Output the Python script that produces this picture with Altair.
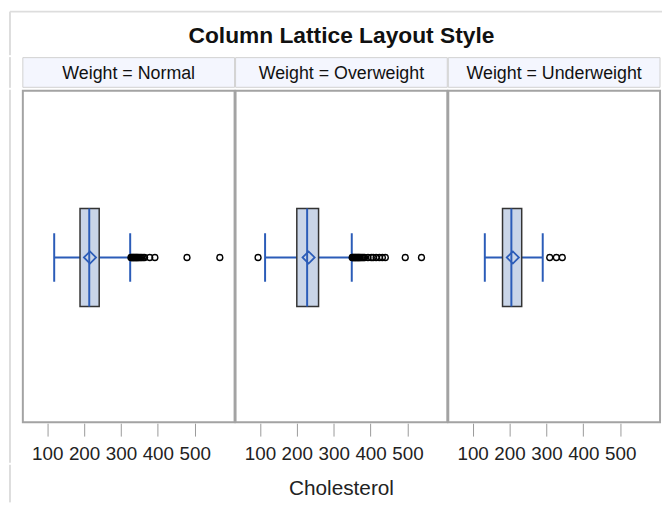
import altair as alt
import pandas as pd

# ---- data ----
groups = ["Normal", "Overweight", "Underweight"]
whisker_low = [119, 114, 133]
q1 = [189, 200, 181]
median = [214, 228, 205]
q3 = [241, 259, 233]
mean = [216, 232, 209]
whisker_high = [325, 349, 290]
outliers_normal = [327, 329, 331, 333, 335, 337, 339, 341, 343, 345, 347, 350,
                   353, 356, 360, 364, 378, 392, 479, 568]
outliers_overweight = [95, 350, 352, 354, 356, 358, 360, 362, 364, 366, 368, 370,
                       372, 375, 378, 381, 384, 393, 402, 407, 415, 424, 432, 440,
                       494, 538]
outliers_underweight = [309, 327, 343]
tick_values = [100, 200, 300, 400, 500]
x_title = ["Cholesterol"]
title_text = ["Column Lattice Layout Style"]

rows = []
for i, g in enumerate(groups):
    rows.append({"group": g, "kind": "stat", "label": "Weight = " + g,
                 "lo": whisker_low[i], "q1": q1[i], "median": median[i],
                 "q3": q3[i], "mean": mean[i], "hi": whisker_high[i]})
for g, vals in zip(groups, [outliers_normal, outliers_overweight, outliers_underweight]):
    for v in vals:
        rows.append({"group": g, "kind": "out", "value": v})
df = pd.DataFrame(rows)

# ---- style ----
FONT = "Liberation Sans"
BLUE = "#2B5CB8"
EDGE = "#dddddd"
W = 214           # one panel
SP = 1            # gap between panels
FW = 3 * W + 2 * SP
TH = 45           # title band
HH = 31           # header band
PH = 337          # plot band
FH = 38           # footer band (axis title)
CY = 169.5
BOX_H = 49.5
CAP_H = 24.5
BX = -13          # x of the faint outer frame line

# ---- title row (with the faint outer frame of the image) ----
tdf = pd.DataFrame({"t": title_text})
t_base = alt.Chart(tdf)
t_text = t_base.mark_text(fontSize=23, fontWeight="bold", font=FONT, color="#111111",
                          baseline="middle").encode(
    x=alt.value(FW / 2), y=alt.value(26), text="t:N")
border_top = t_base.mark_rule(color=EDGE, strokeWidth=2).encode(
    x=alt.value(BX), x2=alt.value(FW + 2), y=alt.value(1))
border_left_t = t_base.mark_rule(color=EDGE, strokeWidth=2).encode(
    x=alt.value(BX), y=alt.value(1), y2=alt.value(TH))
title_row = alt.layer(border_top, border_left_t, t_text).properties(width=FW, height=TH)

# ---- header row ----
hdr_base = alt.Chart().transform_filter(alt.datum.kind == "stat")
hdr_rect = hdr_base.mark_rect(fill="#f4f6fe", stroke="#d0d0d0", strokeWidth=1).encode(
    x=alt.value(0), x2=alt.value(W), y=alt.value(0.5), y2=alt.value(HH - 0.5))
hdr_text = hdr_base.mark_text(fontSize=18, font=FONT, color="#111111",
                              baseline="middle").encode(
    x=alt.value(W / 2), y=alt.value(17.5), text="label:N")
edge_h = hdr_base.transform_filter(alt.datum.group == groups[0]).mark_rule(
    color=EDGE, strokeWidth=2).encode(x=alt.value(BX), y=alt.value(0), y2=alt.value(HH))
header = alt.layer(hdr_rect, hdr_text, edge_h, data=df).properties(
    width=W, height=HH).facet(
    column=alt.Column("group:N", header=None), spacing=SP, bounds="flush")

# ---- plot row ----
sc = alt.Scale(domain=[34, 608], nice=False, zero=False)
ax = alt.Axis(values=tick_values, grid=False, domain=False, tickSize=13,
              tickColor="#9a9a9a", tickWidth=1, labelFontSize=19, labelFont=FONT,
              labelPadding=9, labelColor="#222222", title=None,
              labelFlush=False, labelOverlap=False)


def X(field):
    return alt.X(f"{field}:Q", scale=sc, axis=ax)


base = alt.Chart()
stat = base.transform_filter(alt.datum.kind == "stat")

whisk = stat.mark_rule(color=BLUE, strokeWidth=2).encode(
    x=X("lo"), x2=alt.X2("hi:Q"), y=alt.value(CY))
cap_lo = stat.mark_rule(color=BLUE, strokeWidth=2).encode(
    x=X("lo"), y=alt.value(CY - CAP_H), y2=alt.value(CY + CAP_H))
cap_hi = stat.mark_rule(color=BLUE, strokeWidth=2).encode(
    x=X("hi"), y=alt.value(CY - CAP_H), y2=alt.value(CY + CAP_H))
box = stat.mark_rect(fill="#c9d5e8", stroke="#333333", strokeWidth=1.5).encode(
    x=X("q1"), x2=alt.X2("q3:Q"), y=alt.value(CY - BOX_H), y2=alt.value(CY + BOX_H))
med = stat.mark_rule(color=BLUE, strokeWidth=2).encode(
    x=X("median"), y=alt.value(CY - BOX_H), y2=alt.value(CY + BOX_H))
mean_pt = stat.mark_point(shape="diamond", filled=False, color=BLUE, size=150,
                          strokeWidth=1.8, opacity=1).encode(
    x=X("mean"), y=alt.value(CY))
outs = base.transform_filter(alt.datum.kind == "out").mark_point(
    shape="circle", filled=False, color="black", size=36, strokeWidth=1.4,
    opacity=1).encode(x=X("value"), y=alt.value(CY))
frame = stat.mark_rect(fillOpacity=0, stroke="#a3a3a3", strokeWidth=2).encode(
    x=alt.value(0), x2=alt.value(W), y=alt.value(1), y2=alt.value(PH - 1))
edge_p = stat.transform_filter(alt.datum.group == groups[0]).mark_rule(
    color=EDGE, strokeWidth=2).encode(x=alt.value(BX), y=alt.value(0), y2=alt.value(PH + 40))

plot = alt.layer(whisk, cap_lo, cap_hi, box, med, mean_pt, outs, frame, edge_p,
                 data=df).properties(width=W, height=PH).facet(
    column=alt.Column("group:N", header=None), spacing=SP, bounds="flush")

# ---- footer row: the shared axis title ----
fdf = pd.DataFrame({"t": x_title})
f_base = alt.Chart(fdf)
f_text = f_base.mark_text(fontSize=21, font=FONT, color="#222222",
                          baseline="middle").encode(
    x=alt.value(FW / 2), y=alt.value(25), text="t:N")
edge_f = f_base.mark_rule(color=EDGE, strokeWidth=2).encode(
    x=alt.value(BX), y=alt.value(0), y2=alt.value(FH))
footer = alt.layer(edge_f, f_text).properties(width=FW, height=FH)

chart = alt.vconcat(title_row, header, plot, footer, spacing=0).properties(
    padding={"left": 1, "top": 0, "right": 0, "bottom": 0},
    background="white",
).configure_view(strokeWidth=0, stroke="transparent")

chart.save("out.html", embed_options={"renderer": "svg", "actions": False})
